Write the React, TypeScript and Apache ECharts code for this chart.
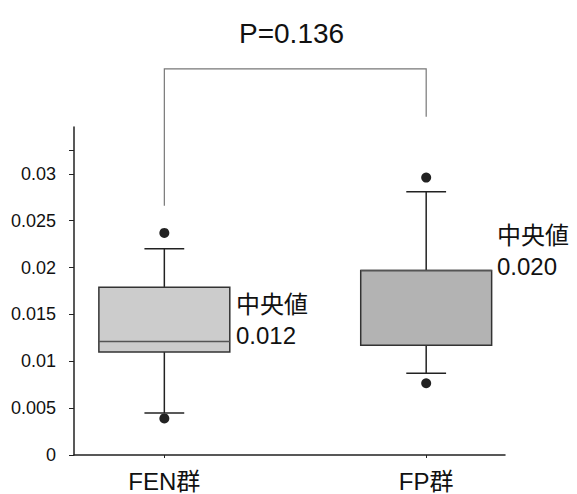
import React, { useEffect, useRef } from "react";
import * as echarts from "echarts";

// ---- data ----
const categories = ["FEN群", "FP群"];
// [min whisker, Q1, median, Q3, max whisker]
const boxStats = [
  [0.00447, 0.011, 0.0121, 0.0179, 0.0220],
  [0.00872, 0.0117, 0.0197, 0.0197, 0.0281],
];
// outliers: [category index, value]
const outliers = [
  [0, 0.0237],
  [0, 0.0039],
  [1, 0.0296],
  [1, 0.00766],
];
const medianLabels = ["中央値\n0.012", "中央値\n0.020"];
const pValueText = "P=0.136";
// significance bracket: left foot, right foot, top (values on y scale)
const bracketLevels = [0.0266, 0.0361, 0.0412];
const yLabelValues = [0, 0.005, 0.01, 0.015, 0.02, 0.025, 0.03];
const yTickValues = [0, 0.005, 0.01, 0.015, 0.02, 0.025, 0.03, 0.0325];

const boxFills = ["#cccccc", "#b3b3b3"];
const FONT = "'Liberation Sans', Arial, 'Noto Sans CJK JP', sans-serif";

export default function App() {
  const ref = useRef<HTMLDivElement>(null);
  useEffect(() => {
    if (!ref.current) return;
    const chart = echarts.init(ref.current, null, { renderer: "svg" });
    const boxData = boxStats.map((s, i) => [i, ...s]);
    const option: any = {
      animation: false,
      backgroundColor: "#ffffff",
      textStyle: { fontFamily: FONT },
      title: {
        text: pValueText,
        left: 234,
        top: 14,
        textStyle: { fontSize: 28, fontWeight: "normal", color: "#111", fontFamily: FONT },
      },
      grid: { left: 74, right: 72, top: 127, bottom: 39, containLabel: false },
      xAxis: {
        type: "value",
        min: -0.345,
        max: 1.301,
        splitLine: { show: false },
        axisLine: { show: true, onZero: false, lineStyle: { color: "#222", width: 1.5 } },
        axisTick: { show: true, length: 3, customValues: [0, 1], lineStyle: { color: "#222" } },
        axisLabel: {
          customValues: [0, 1],
          formatter: (v: number) => categories[Math.round(v)] ?? "",
          fontSize: 24,
          lineHeight: 24,
          color: "#111",
          margin: 14,
          fontFamily: FONT,
        },
      },
      yAxis: {
        type: "value",
        min: 0,
        max: 0.035,
        splitLine: { show: false },
        axisLine: { show: true, onZero: false, lineStyle: { color: "#222", width: 1.5 } },
        axisTick: { show: true, length: 5, customValues: yTickValues, lineStyle: { color: "#222" } },
        axisLabel: {
          customValues: yLabelValues,
          formatter: (v: number) => String(+v.toFixed(4)),
          fontSize: 18,
          color: "#111",
          margin: 18,
          fontFamily: FONT,
        },
      },
      series: [
        {
          type: "custom",
          data: boxData,
          encode: { x: 0, y: [1, 2, 3, 4, 5] },
          renderItem: (params: any, api: any) => {
            const x = api.value(0);
            const lo = api.coord([x, api.value(1)]);
            const q1 = api.coord([x, api.value(2)]);
            const med = api.coord([x, api.value(3)]);
            const q3 = api.coord([x, api.value(4)]);
            const hi = api.coord([x, api.value(5)]);
            const bw = api.size([0.5, 0])[0];
            const cw = api.size([0.152, 0])[0];
            const lineStyle = { stroke: "#222", lineWidth: 1.5 };
            return {
              type: "group",
              children: [
                { type: "line", shape: { x1: hi[0], y1: hi[1], x2: q3[0], y2: q3[1] }, style: lineStyle },
                { type: "line", shape: { x1: hi[0] - cw / 2, y1: hi[1], x2: hi[0] + cw / 2, y2: hi[1] }, style: lineStyle },
                { type: "line", shape: { x1: lo[0], y1: lo[1], x2: q1[0], y2: q1[1] }, style: lineStyle },
                { type: "line", shape: { x1: lo[0] - cw / 2, y1: lo[1], x2: lo[0] + cw / 2, y2: lo[1] }, style: lineStyle },
                {
                  type: "rect",
                  shape: { x: q3[0] - bw / 2, y: q3[1], width: bw, height: q1[1] - q3[1] },
                  style: { fill: boxFills[params.dataIndex], stroke: "#333", lineWidth: 1.5 },
                },
                {
                  type: "line",
                  shape: { x1: med[0] - bw / 2, y1: med[1], x2: med[0] + bw / 2, y2: med[1] },
                  style: { stroke: "#555", lineWidth: 1.5 },
                },
              ],
            };
          },
          z: 2,
        },
        {
          type: "scatter",
          data: outliers,
          symbol: "circle",
          symbolSize: 10,
          itemStyle: { color: "#222", opacity: 1 },
          z: 3,
        },
        {
          type: "custom",
          data: [[0, 1, ...bracketLevels]],
          encode: { x: [0, 1], y: [2, 3, 4] },
          clip: false,
          renderItem: (params: any, api: any) => {
            const a = api.coord([api.value(0), api.value(2)]);
            const b = api.coord([api.value(0), api.value(4)]);
            const c = api.coord([api.value(1), api.value(4)]);
            const d = api.coord([api.value(1), api.value(3)]);
            return {
              type: "polyline",
              shape: { points: [a, b, c, d] },
              style: { stroke: "#777", lineWidth: 1.2, fill: "none" },
            };
          },
        },
      ],
      graphic: [
        {
          type: "text",
          left: 236,
          top: 289,
          style: { text: medianLabels[0], fontSize: 24, lineHeight: 31, fill: "#111", fontFamily: FONT },
        },
        {
          type: "text",
          left: 497,
          top: 220,
          style: { text: medianLabels[1], fontSize: 24, lineHeight: 31, fill: "#111", fontFamily: FONT },
        },
      ],
    };
    chart.setOption(option);
    return () => chart.dispose();
  }, []);
  return (
    <div
      ref={ref}
      style={{ position: "fixed", left: 0, top: 0, width: 577, height: 494 }}
    />
  );
}
